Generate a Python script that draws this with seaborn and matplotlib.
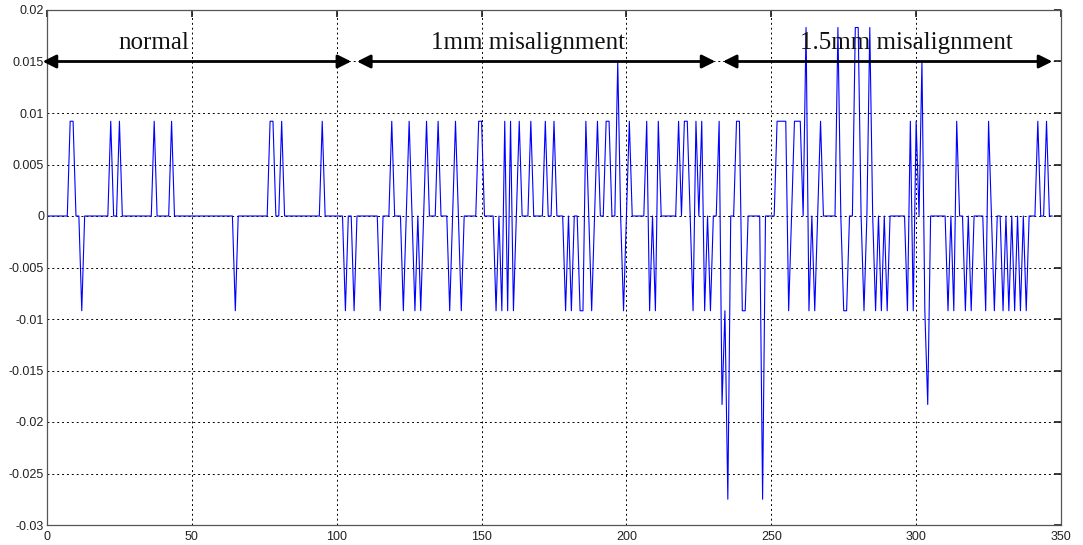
import numpy as np
import pandas as pd
import matplotlib
matplotlib.use("Agg")
import matplotlib.pyplot as plt
import seaborn as sns

# quantised sample levels
a, b, c = 0.0092, 0.0183, 0.0275

n_samples = 348

# non-zero samples (index, value); everything else sits on 0
normal_idx = [8, 9, 12, 22, 25, 37, 43, 65, 77, 78, 81, 95]
normal_val = [a, a, -a, a, a, a, a, -a, a, a, a, a]

mis1_idx = [103, 106, 115, 119, 123, 125, 127, 129, 131, 135, 139, 141, 143,
            149, 150, 155, 157, 158, 159, 160, 161, 163, 167, 172, 175, 179,
            181, 184, 185, 186, 188, 190, 193, 194, 197, 199, 201, 207, 208,
            210, 211, 218, 220, 221, 223, 224, 226, 227, 229, 232]
mis1_val = [-a, -a, -a, a, -a, a, -a, -a, a, a, -a, a, -a,
            a, a, -a, -a, a, -a, a, -a, a, a, a, a, -a,
            -a, -a, -a, a, -a, a, a, a, 0.015, -a, a, a, -a,
            -a, a, a, a, a, -a, a, a, -a, -a, a]

mis15_idx = [233, 234, 235, 238, 239, 240, 241, 247, 252, 253, 254, 255, 256,
             258, 259, 260, 262, 263, 265, 267, 273, 275, 276, 279, 280, 282,
             284, 286, 288, 290, 297, 298, 299, 300, 302, 303, 304, 311, 313,
             314, 317, 319, 324, 325, 327, 330, 332, 334, 336, 338, 342, 345]
mis15_val = [-b, -a, -c, a, a, -a, -a, -c, a, a, a, a, -a,
             a, a, a, b, -a, -a, a, b, -a, -a, b, b, -a,
             b, -a, -a, -a, -a, a, -a, a, 0.015, -a, -b, -a, -a,
             a, -a, -a, -a, a, -a, -a, -a, -a, -a, -a, a, a]

section_labels = ["normal", "1mm misalignment", "1.5mm misalignment"]
section_start = [-1.5, 107, 233.3]
section_end = [105, 230.7, 347]
label_x = [37, 166, 296.5]

signal = np.zeros(n_samples)
signal[normal_idx] = normal_val
signal[mis1_idx] = mis1_val
signal[mis15_idx] = mis15_val
df = pd.DataFrame({"sample": np.arange(n_samples), "value": signal})

sns.set_theme(style="white")
plt.rcParams["font.family"] = ["Liberation Sans", "DejaVu Sans"]

fig = plt.figure(figsize=(10.83, 5.45), dpi=100)
ax = fig.add_axes([47 / 1083, 20 / 545, 1014 / 1083, 515 / 545])

sns.lineplot(data=df, x="sample", y="value", color="#0000ff", linewidth=0.8,
             estimator=None, ax=ax)

ax.set_xlim(0, 350)
ax.set_ylim(-0.03, 0.02)
ax.set_xticks(np.arange(0, 351, 50))
ax.set_yticks(np.arange(-0.03, 0.0201, 0.005))
ax.yaxis.set_major_formatter(plt.FuncFormatter(lambda v, p: "%g" % round(v, 4)))
ax.set_xlabel("")
ax.set_ylabel("")
ax.grid(True, color="black", linestyle=(0, (2, 3)), linewidth=0.7)
ax.tick_params(direction="in", length=5, top=True, right=True, labelsize=9,
               colors="#222222", pad=2)
ax.tick_params(axis="x", pad=4)
for s in ax.spines.values():
    s.set_color("#555555")
    s.set_linewidth(0.9)

for lab, x0, x1, xl in zip(section_labels, section_start, section_end, label_x):
    ax.annotate("", xy=(x1, 0.015), xytext=(x0, 0.015), annotation_clip=False,
                arrowprops=dict(arrowstyle="<|-|>", color="black", lw=2,
                                mutation_scale=20, shrinkA=0, shrinkB=0))
    ax.text(xl, 0.0168, lab, ha="center", va="center", fontsize=18,
            family=["Liberation Serif", "DejaVu Serif"], color="#111111")

fig.savefig("out.png", dpi=100)
